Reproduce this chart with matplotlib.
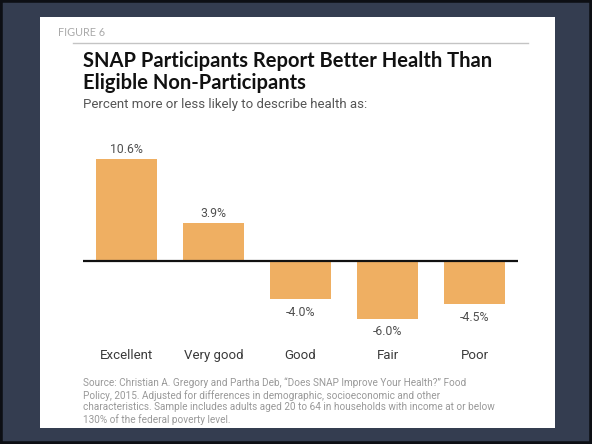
import numpy as np
import matplotlib.pyplot as plt
from matplotlib.patches import Rectangle
from matplotlib.transforms import blended_transform_factory

categories = ["Excellent", "Very good", "Good", "Fair", "Poor"]
values = [10.6, 3.9, -4.0, -6.0, -4.5]
value_labels = ["10.6%", "3.9%", "-4.0%", "-6.0%", "-4.5%"]

title = "SNAP Participants Report Better Health Than\nEligible Non-Participants"
subtitle = "Percent more or less likely to describe health as:"
source = ("Source: Christian A. Gregory and Partha Deb, \u201cDoes SNAP Improve Your Health?\u201d Food\n"
          "Policy, 2015. Adjusted for differences in demographic, socioeconomic and other\n"
          "characteristics. Sample includes adults aged 20 to 64 in households with income at or below\n"
          "130% of the federal poverty level.")

W, H = 592, 444
fig = plt.figure(figsize=(W / 100, H / 100), dpi=100)
fig.patch.set_facecolor("#343d50")

# white card and dark outer edge, kept behind the axes
fig.add_artist(Rectangle((0, 0), 1, 1, transform=fig.transFigure, fill=False,
                         edgecolor="#0d0f14", linewidth=4, zorder=-2))
fig.add_artist(Rectangle((40 / W, 1 - 428 / H), 515 / W, 411 / H,
                         transform=fig.transFigure, facecolor="white",
                         edgecolor="none", zorder=-1))


def fx(px):
    return px / W


def fy(py):
    return 1 - py / H


fig.text(fx(58), fy(32), "FIGURE 6", fontsize=7.8, color="#aaaaaa",
         family="Lato", va="center")
fig.add_artist(plt.Line2D([fx(73), fx(528)], [fy(43), fy(43)], color="#c4c4c4",
                          linewidth=1, transform=fig.transFigure))
fig.text(fx(83), fy(72), title, fontsize=14.5, fontweight="bold", color="#111111",
         family="Lato", va="center", linespacing=1.1)
fig.text(fx(83), fy(104), subtitle, fontsize=9.5, color="#555555",
         family="Roboto", va="center")

# axes: x spans 83..518 px, y spans 135..345 px
ax = fig.add_axes([fx(83), fy(345), fx(518) - fx(83), (345 - 135) / H])
x = np.arange(len(categories))
bars = ax.bar(x, values, width=0.71, color="#efaf62", zorder=2)
ax.set_xlim(-0.5, 4.5)
ax.set_ylim(-(345 - 261) / 9.62, (261 - 135) / 9.62)
ax.axhline(0, color="#111111", linewidth=1.6, zorder=3)
ax.axis("off")

for xi, v, lab in zip(x, values, value_labels):
    off = 0.35 if v > 0 else -0.7
    ax.text(xi, v + off, lab, ha="center", va="bottom" if v > 0 else "top",
            fontsize=8.8, color="#505050", family="Roboto")

tr = blended_transform_factory(ax.transData, fig.transFigure)
for xi, cat in zip(x, categories):
    ax.text(xi, fy(355), cat, transform=tr, ha="center", va="center",
            fontsize=9.5, color="#3a3a3a", family="Roboto")

fig.text(fx(83), fy(401), source, fontsize=7.2, color="#999999",
         family="Roboto", va="center", linespacing=1.2)

fig.savefig("out.png", dpi=100, facecolor=fig.get_facecolor())
